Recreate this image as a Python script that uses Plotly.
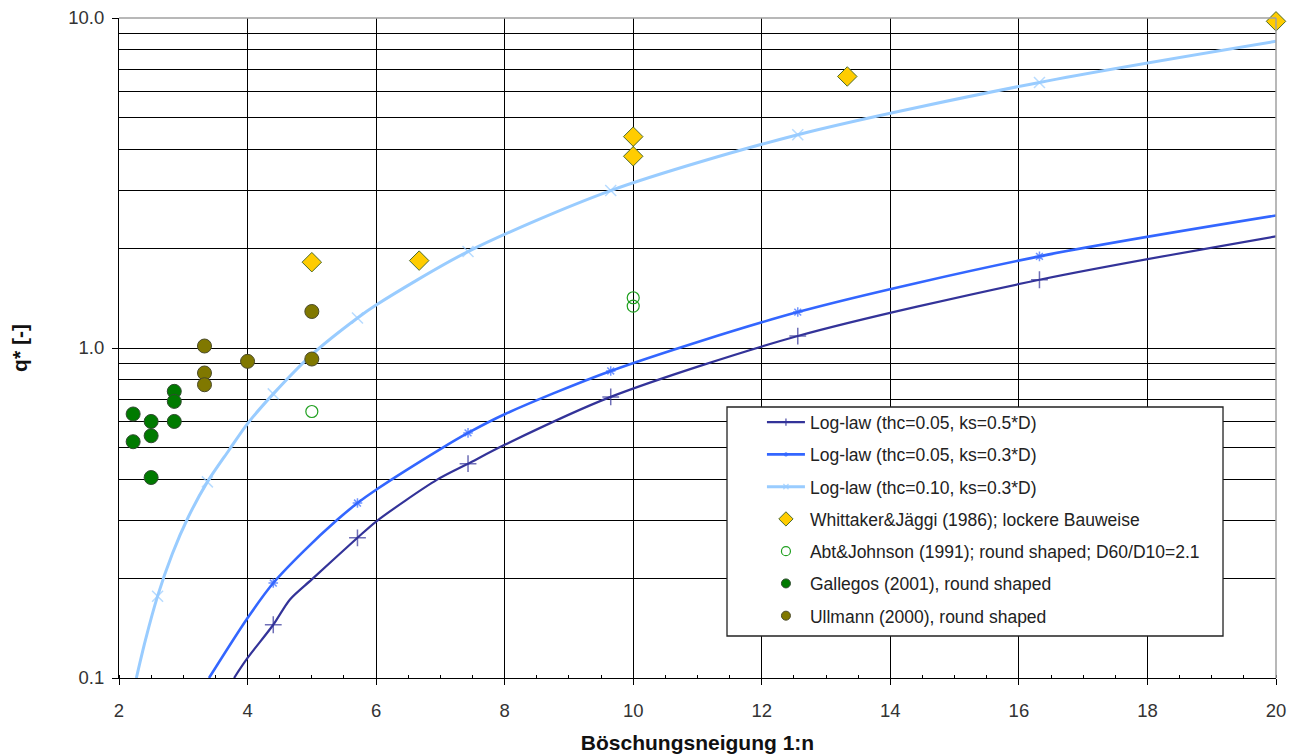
import plotly.graph_objects as go

# ---- data ----
marker_n = [2.60, 3.375, 4.40, 5.71, 7.43, 9.65, 12.56, 16.32]

navy_x = [3.79, 4.0, 4.40, 4.66, 5.0, 5.71, 6.0, 6.95, 7.43, 8.0, 9.65, 12.56, 16.32, 20.0]
navy_y = [0.100, 0.115, 0.145, 0.173, 0.199, 0.266, 0.298, 0.399, 0.446, 0.509, 0.711, 1.087, 1.61, 2.18]

blue_x = [3.40, 4.0, 4.40, 4.87, 5.40, 5.71, 6.0, 7.0, 7.43, 8.0, 9.65, 12.56, 16.32, 20.0]
blue_y = [0.100, 0.152, 0.194, 0.242, 0.302, 0.339, 0.372, 0.494, 0.553, 0.63, 0.852, 1.285, 1.895, 2.52]

lb_x = [2.27, 2.41, 2.60, 2.83, 3.08, 3.375, 3.71, 4.0, 4.40, 5.0, 5.71, 6.0, 7.43, 9.65, 12.56, 16.32, 20.0]
lb_y = [0.100, 0.130, 0.177, 0.238, 0.308, 0.393, 0.49, 0.59, 0.726, 0.955, 1.233, 1.35, 1.96, 3.0, 4.43, 6.38, 8.5]

whittaker_x = [5, 6.67, 10, 10, 13.33, 20]
whittaker_y = [1.82, 1.84, 4.37, 3.81, 6.65, 9.77]

abt_x = [5, 10, 10]
abt_y = [0.642, 1.42, 1.34]

gallegos_x = [2.22, 2.22, 2.5, 2.5, 2.5, 2.86, 2.86, 2.86]
gallegos_y = [0.631, 0.520, 0.599, 0.542, 0.405, 0.739, 0.689, 0.599]

ullmann_x = [3.33, 3.33, 3.33, 4, 5, 5]
ullmann_y = [1.014, 0.840, 0.774, 0.911, 1.29, 0.926]

x_ticks = [2, 4, 6, 8, 10, 12, 14, 16, 18, 20]
y_ticks = [0.1, 1, 10]
y_ticktext = ["0.1", "1.0", "10.0"]
y_minor = [m * d for d in (0.1, 1) for m in range(2, 10)]

FONT = "Liberation Sans, Arial, sans-serif"


def msizes(xs, size):
    return [size if any(abs(x - m) < 1e-6 for m in marker_n) else 0 for x in xs]


fig = go.Figure()

curves = [
    ("Log-law (thc=0.05, ks=0.5*D)", navy_x, navy_y, "#333399", "cross-thin", 2.2, 12),
    ("Log-law (thc=0.05, ks=0.3*D)", blue_x, blue_y, "#3366FF", "asterisk-open", 2.6, 8),
    ("Log-law (thc=0.10, ks=0.3*D)", lb_x, lb_y, "#99CCFF", "x-thin-open", 3, 11),
]
for i, (name, xs, ys, col, sym, w, ms) in enumerate(curves):
    fig.add_trace(go.Scatter(
        x=xs, y=ys, name=name, mode="lines+markers", legendgroup=f"g{i}",
        line=dict(color=col, width=w, shape="spline", smoothing=0.8),
        marker=dict(symbol=sym, size=msizes(xs, ms), color=col,
                    line=dict(color=col, width=1.5)),
    ))

points = [
    ("Whittaker&Jäggi (1986); lockere Bauweise", whittaker_x, whittaker_y,
     "diamond", 15, 11, "#FFCC00", "#4d6b2e", 1),
    ("Abt&Johnson (1991); round shaped; D60/D10=2.1", abt_x, abt_y,
     "circle-open", 12, 9, "#20A020", "#20A020", 1.2),
    ("Gallegos (2001), round shaped", gallegos_x, gallegos_y,
     "circle", 14, 9, "#007A00", "#2f4a2f", 1),
    ("Ullmann (2000), round shaped", ullmann_x, ullmann_y,
     "circle", 14, 9, "#807800", "#4a4a2a", 1),
]
for j, (name, xs, ys, sym, size, lsize, fill, edge, ew) in enumerate(points):
    fig.add_trace(go.Scatter(
        x=xs, y=ys, name=name, mode="markers", legendgroup=f"p{j}",
        showlegend=False, cliponaxis=False,
        marker=dict(symbol=sym, size=size, color=fill, line=dict(color=edge, width=ew)),
    ))
    # legend entry with the smaller legend symbol
    fig.add_trace(go.Scatter(
        x=[None], y=[None], name=name, mode="markers", legendgroup=f"p{j}",
        marker=dict(symbol=sym, size=lsize, color=fill, line=dict(color=edge, width=ew)),
    ))

fig.update_layout(
    width=1289, height=747,
    margin=dict(l=111, r=21, t=10, b=77, autoexpand=False),
    paper_bgcolor="white", plot_bgcolor="white",
    font=dict(family=FONT, size=17.5, color="#222"),
    showlegend=True,
    legend=dict(
        x=0.5557, y=0.4147, xanchor="left", yanchor="top",
        bgcolor="rgba(0,0,0,0)", borderwidth=0,
        font=dict(family=FONT, size=17.5, color="#222"), traceorder="grouped",
        tracegroupgap=6.5, itemwidth=38,
    ),
    xaxis=dict(
        range=[2, 20], tickvals=x_ticks, ticks="outside", ticklen=6, tickcolor="black",
        showline=True, linecolor="black", linewidth=1, automargin=False,
        showgrid=True, gridcolor="black", gridwidth=1, zeroline=False,
        tickfont=dict(family=FONT, size=18.5, color="#333"),
        ticklabelstandoff=10, ticklabeloverflow="allow",
        minor=dict(dtick=0.5, ticks="inside", ticklen=3, tickcolor="black", showgrid=False),
        title=dict(text="<b>Böschungsneigung 1:n</b>", font=dict(family=FONT, size=21, color="#111"),
                   standoff=15),
    ),
    yaxis=dict(
        type="log", range=[-1, 1], tickvals=y_ticks, ticktext=y_ticktext,
        ticks="outside", ticklen=6, tickcolor="black",
        showline=True, linecolor="black", linewidth=1, automargin=False,
        showgrid=True, gridcolor="black", gridwidth=1, zeroline=False,
        tickfont=dict(family=FONT, size=18.5, color="#333"),
        ticklabelstandoff=4, ticklabeloverflow="allow",
        minor=dict(tickvals=y_minor, ticks="", showgrid=True, gridcolor="black", gridwidth=1),
        title=dict(text="<b>q* [-]</b>", font=dict(family=FONT, size=21, color="#111"), standoff=51),
    ),
    shapes=[
        dict(type="line", xref="paper", yref="paper", x0=0, x1=1, y0=1, y1=1,
             line=dict(color="#a0a0a0", width=1.5), layer="above"),
        dict(type="line", xref="paper", yref="paper", x0=1, x1=1, y0=0, y1=1,
             line=dict(color="#a0a0a0", width=1.5), layer="above"),
        dict(type="rect", xref="paper", yref="paper", x0=0.5255, x1=0.9542, y0=0.0636, y1=0.4106,
             fillcolor="white", line=dict(color="#222", width=1.3), layer="above"),
    ],
)

fig.write_html("out.html")
